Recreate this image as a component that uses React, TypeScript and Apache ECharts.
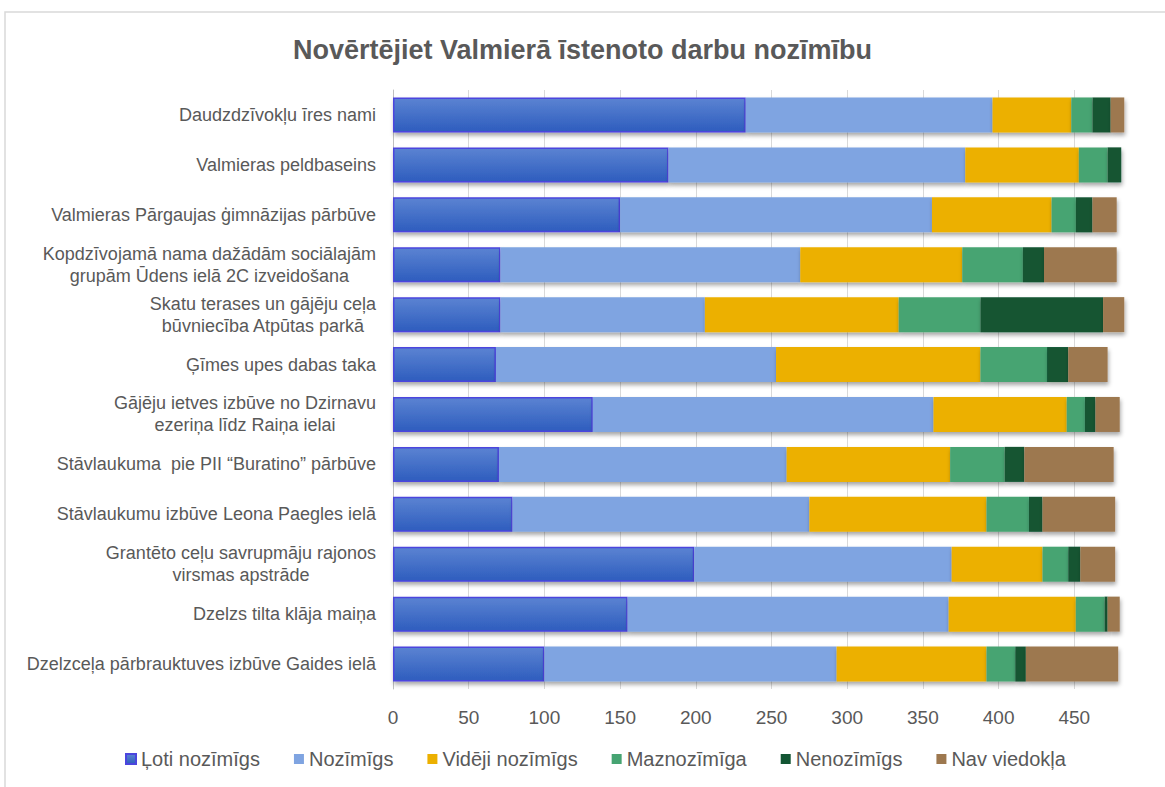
import React, { useEffect, useRef } from "react";
import * as echarts from "echarts";

const categories = [
  "Daudzdzīvokļu īres nami",
  "Valmieras peldbaseins",
  "Valmieras Pārgaujas ģimnāzijas pārbūve",
  "Kopdzīvojamā nama dažādām sociālajām\ngrupām Ūdens ielā 2C izveidošana",
  "Skatu terases un gājēju ceļa\nbūvniecība Atpūtas parkā",
  "Ģīmes upes dabas taka",
  "Gājēju ietves izbūve no Dzirnavu\nezeriņa līdz Raiņa ielai",
  "Stāvlaukuma  pie PII “Buratino” pārbūve",
  "Stāvlaukumu izbūve Leona Paegles ielā",
  "Grantēto ceļu savrupmāju rajonos\nvirsmas apstrāde",
  "Dzelzs tilta klāja maiņa",
  "Dzelzceļa pārbrauktuves izbūve Gaides ielā",
];

const seriesNames = [
  "Ļoti nozīmīgs",
  "Nozīmīgs",
  "Vidēji nozīmīgs",
  "Maznozīmīga",
  "Nenozīmīgs",
  "Nav viedokļa",
];

const veryImportant = [233, 182, 150, 71, 71, 68, 132, 70, 79, 199, 155, 100];
const important = [163, 196, 206, 198, 135, 185, 225, 190, 196, 170, 212, 193];
const medium = [52, 75, 79, 107, 128, 135, 88, 108, 117, 60, 84, 99];
const low = [14, 19, 16, 40, 54, 44, 12, 36, 28, 17, 19, 19];
const notImportant = [12, 9, 11, 14, 81, 14, 7, 13, 9, 8, 2, 7];
const noOpinion = [9, 0, 16, 48, 14, 26, 16, 59, 48, 23, 8, 61];

const xTicks = [0, 50, 100, 150, 200, 250, 300, 350, 400, 450, 500];

const FONT = "Liberation Sans, Arial, sans-serif";
const TEXT = "#595959";

export default function App() {
  const ref = useRef<HTMLDivElement>(null);

  useEffect(() => {
    if (!ref.current) return;
    const chart = echarts.init(ref.current, null, { renderer: "svg" });

    const dataSets = [veryImportant, important, medium, low, notImportant, noOpinion];
    const colors: any[] = [
      new echarts.graphic.LinearGradient(0, 0, 0, 1, [
        { offset: 0, color: "#5B83D2" },
        { offset: 1, color: "#2E5DBE" },
      ]),
      "#7FA4E1",
      "#ECB000",
      "#46A472",
      "#125533",
      "#9D784F",
    ];

    const series = dataSets.map((d, i) => ({
      name: seriesNames[i],
      type: "bar",
      stack: "total",
      barWidth: 35,
      data: d,
      itemStyle: {
        color: colors[i],
        borderColor: i === 0 ? "#4B45DE" : undefined,
        borderWidth: i === 0 ? 1.5 : 0,
        shadowBlur: 4,
        shadowOffsetX: 1,
        shadowOffsetY: 3,
        shadowColor: "rgba(0,0,0,0.35)",
      },
      emphasis: { disabled: true },
    }));

    const splitColors = xTicks.map((t) => (t === 500 ? "transparent" : "#D9D9D9"));

    chart.setOption({
      animation: false,
      backgroundColor: "#ffffff",
      textStyle: { fontFamily: FONT },
      title: {
        text: "Novērtējiet Valmierā īstenoto darbu nozīmību",
        left: "center",
        top: 31,
        textStyle: {
          fontFamily: FONT,
          fontSize: 27,
          fontWeight: "bold",
          color: TEXT,
        },
      },
      graphic: [
        {
          type: "rect",
          shape: { x: 5, y: 12, width: 1200, height: 800 },
          style: { fill: "none", stroke: "#D9D9D9", lineWidth: 1.5 },
          silent: true,
          z: -10,
        },
      ],
      legend: {
        bottom: 13,
        left: 120,
        icon: "rect",
        itemWidth: 10,
        itemHeight: 10,
        itemGap: 34,
        textStyle: { fontFamily: FONT, fontSize: 20, color: TEXT },
        data: seriesNames,
      },
      grid: { left: 393, right: 15, top: 90, bottom: 98 },
      xAxis: {
        type: "value",
        min: 0,
        max: 500,
        interval: 50,
        axisLine: { show: false },
        axisTick: { show: false },
        axisLabel: {
          fontFamily: FONT,
          fontSize: 19,
          color: TEXT,
          margin: 19,
          formatter: (v: number) => (v === 500 ? "" : String(v)),
        },
        splitLine: {
          show: true,
          showMaxLine: false,
          lineStyle: { color: splitColors, width: 1 },
        },
      },
      yAxis: {
        type: "category",
        data: categories,
        inverse: true,
        axisLine: { show: true, lineStyle: { color: "#BFBFBF", width: 1 } },
        axisTick: { show: false },
        axisLabel: {
          margin: 17,
          fontFamily: FONT,
          fontSize: 18,
          color: TEXT,
          lineHeight: 22,
          formatter: (v: string) =>
            v
              .split("\n")
              .map((l) => `{c|${l}}`)
              .join("\n"),
          rich: {
            c: {
              align: "center",
              fontFamily: FONT,
              fontSize: 18,
              color: TEXT,
              lineHeight: 22,
            },
          },
        },
      },
      series,
    });

    return () => chart.dispose();
  }, []);

  return (
    <div
      ref={ref}
      style={{ position: "absolute", left: 0, top: 0, width: 1165, height: 787 }}
    />
  );
}
